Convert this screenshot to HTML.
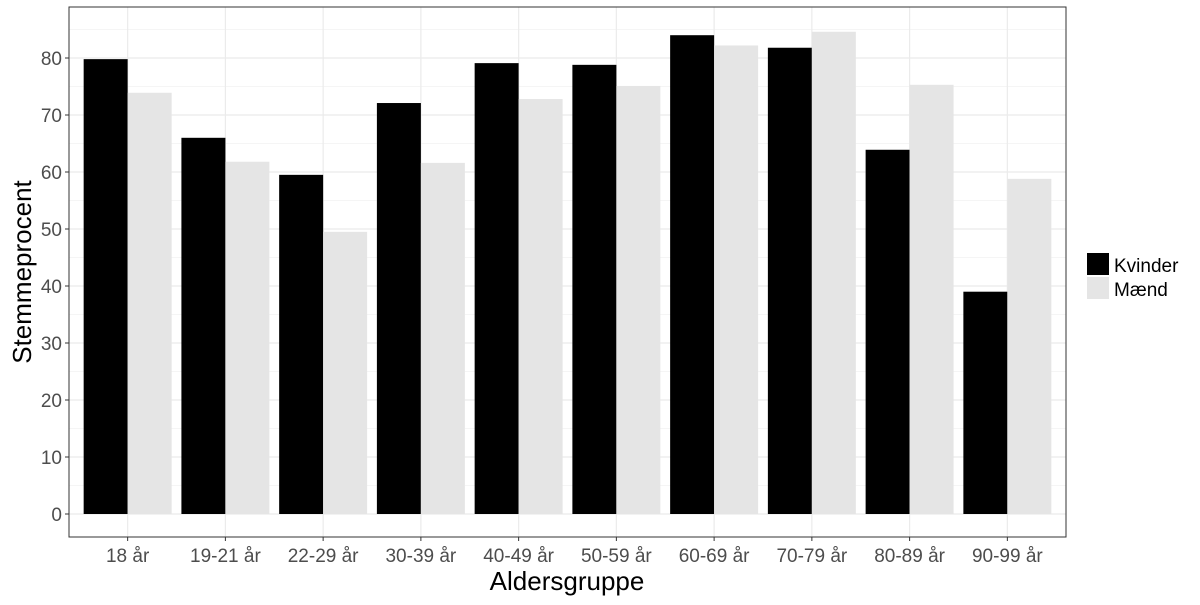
<!DOCTYPE html>
<html><head><meta charset="utf-8"><style>
body{margin:0;background:#fff}
svg text{font-family:"Liberation Sans",Arial,sans-serif}
</style></head><body>
<svg id="chart" width="1200" height="600" xmlns="http://www.w3.org/2000/svg">
<rect width="1200" height="600" fill="#fff"/>
<g id="grid"></g>
<g id="bars"></g>
<rect x="69" y="7" width="997" height="530" fill="none" stroke="#333" stroke-width="1"/>
<g id="axes"></g>
<text x="567" y="590" font-size="26" text-anchor="middle" fill="#000">Aldersgruppe</text>
<text transform="translate(31,272) rotate(-90)" font-size="26" text-anchor="middle" fill="#000">Stemmeprocent</text>
<g>
<rect x="1087" y="253" width="22" height="22" fill="#000"/>
<text x="1114" y="272" font-size="19">Kvinder</text>
<rect x="1087" y="277" width="22" height="22" fill="#e5e5e5"/>
<text x="1114" y="296" font-size="19">Mænd</text>
</g>
</svg>
<script>
const categories=["18 år","19-21 år","22-29 år","30-39 år","40-49 år","50-59 år","60-69 år","70-79 år","80-89 år","90-99 år"];
const kvinder=[79.8,66,59.5,72.1,79.1,78.8,84,81.8,63.9,39];
const maend=[73.9,61.8,49.5,61.6,72.8,75.1,82.2,84.6,75.3,58.8];
const yTicks=[0,10,20,30,40,50,60,70,80];
const NS="http://www.w3.org/2000/svg";
const L=69,R=1066,T=7,B=537;
const step=(R-L)/(categories.length-1+1.2);
const xc=i=>L+0.6*step+i*step;
const y=v=>514-v*(456/80);
function mk(t,a,p){const e=document.createElementNS(NS,t);for(const k in a)e.setAttribute(k,a[k]);p.appendChild(e);return e;}
const grid=document.getElementById('grid'),bars=document.getElementById('bars'),axes=document.getElementById('axes');
for(let v=5;v<=85;v+=10){const l=mk('line',{x1:L,x2:R,y1:y(v),y2:y(v),stroke:'#f2f2f2','stroke-width':0.8},grid);

}
yTicks.forEach(v=>{const l=mk('line',{x1:L,x2:R,y1:y(v),y2:y(v),stroke:'#ebebeb','stroke-width':1.2},grid);


const t=mk('line',{x1:L-4,x2:L,y1:y(v),y2:y(v),stroke:'#333'},axes);


const tx=mk('text',{x:L-7,y:y(v)+7,'font-size':19,fill:'#4d4d4d','text-anchor':'end'},axes);tx.textContent=v;

});
categories.forEach((c,i)=>{const bw=step*0.45;
const l=mk('line',{x1:xc(i),x2:xc(i),y1:T,y2:B,stroke:'#ebebeb','stroke-width':1.2},grid);


const a=mk('rect',{x:xc(i)-bw,y:y(kvinder[i]),width:bw,height:y(0)-y(kvinder[i]),fill:'#000'},bars);


const b=mk('rect',{x:xc(i),y:y(maend[i]),width:bw,height:y(0)-y(maend[i]),fill:'#e5e5e5'},bars);


const t=mk('line',{x1:xc(i),x2:xc(i),y1:B,y2:B+4,stroke:'#333'},axes);


const tx=mk('text',{x:xc(i),y:B+25,'font-size':19,fill:'#4d4d4d','text-anchor':'middle'},axes);tx.textContent=c;

});
</script>
</body></html>
